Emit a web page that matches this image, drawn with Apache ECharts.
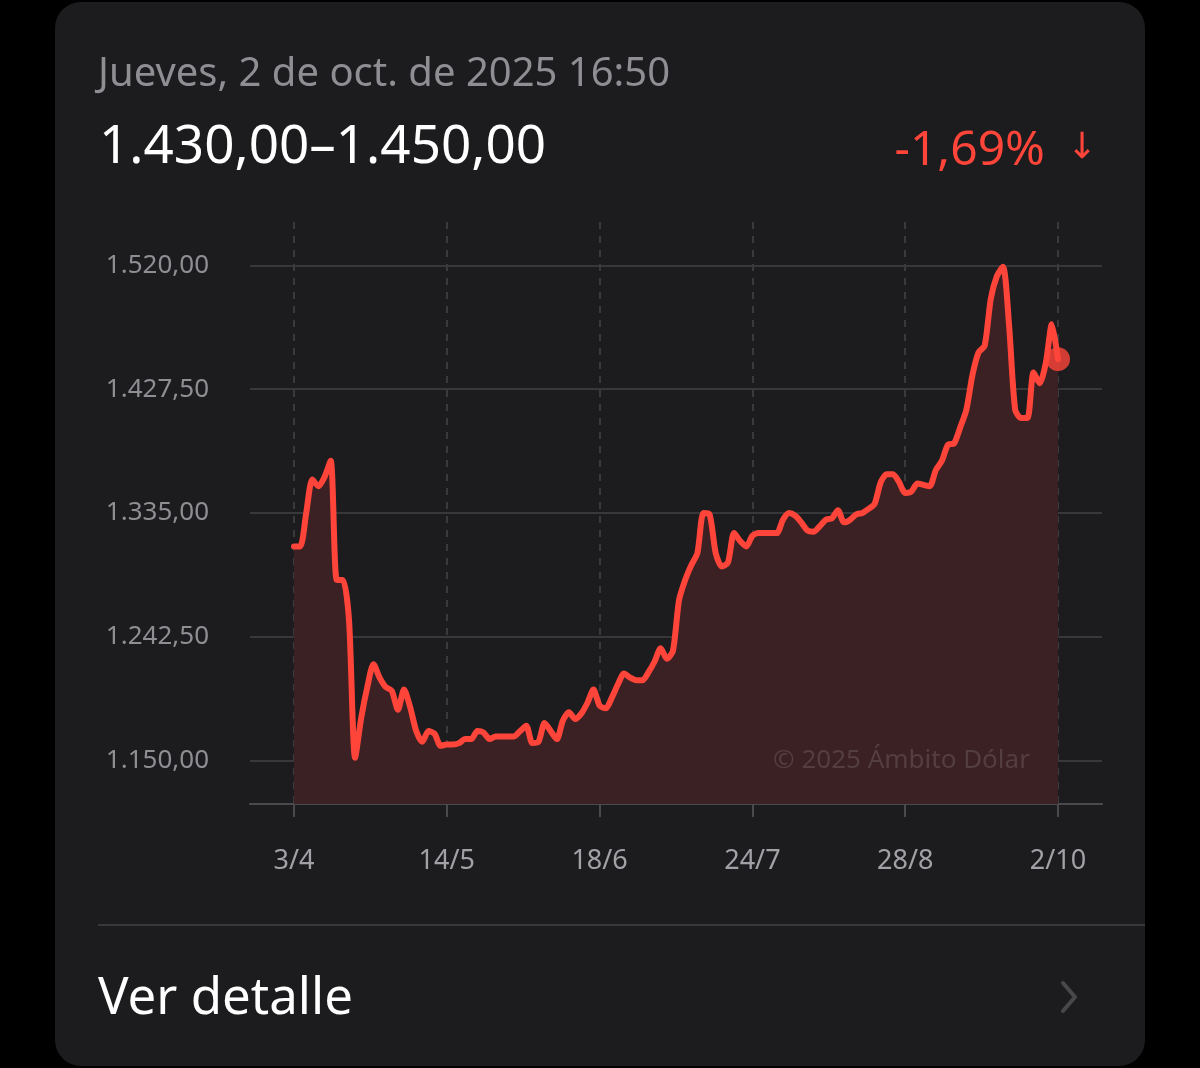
<!DOCTYPE html>
<html>
<head>
<meta charset="utf-8">
<script src="https://cdn.jsdelivr.net/npm/echarts@6/dist/echarts.min.js"></script>
<style>
html,body{margin:0;padding:0;background:#000;width:1200px;height:1068px;overflow:hidden;}
#card{position:absolute;left:55px;top:2px;width:1090px;height:1064px;background:#1c1c1e;border-radius:26px;}
#c{position:absolute;left:0;top:0;width:1200px;height:1068px;}
</style>
</head>
<body>
<div id="card"></div>
<div id="c"></div>
<script>
// ---- data ----
const headerDate = 'Jueves, 2 de oct. de 2025 16:50';
const headerRange = '1.430,00–1.450,00';
const headerChange = '-1,69%';
const headerArrow = '↓';
const watermark = '© 2025 Ámbito Dólar';
const footerText = 'Ver detalle';

const xTickLabels = ['3/4', '14/5', '18/6', '24/7', '28/8', '2/10'];
const xTickIndex = [0, 25, 50, 75, 100, 125];
const yTickValues = [1150, 1242.5, 1335, 1427.5, 1520];

const prices = [
  1310, 1310, 1335, 1360, 1355, 1362, 1374, 1285, 1285, 1255,
  1152, 1182, 1205, 1222, 1212, 1205, 1202, 1188, 1203, 1190,
  1172, 1164, 1172, 1170, 1161, 1162, 1162, 1163, 1166, 1166,
  1172, 1171, 1166, 1168, 1168, 1168, 1168, 1172, 1176, 1163,
  1164, 1178, 1172, 1166, 1180, 1186, 1181, 1185, 1193, 1203,
  1191, 1189, 1197, 1207, 1215, 1212, 1210, 1210, 1216, 1224,
  1234, 1226, 1232, 1270, 1285, 1296, 1305, 1335, 1334, 1305,
  1295, 1298, 1320, 1314, 1310, 1318, 1320, 1320, 1320, 1320,
  1330, 1335, 1333, 1328, 1322, 1321, 1325, 1330, 1331, 1337,
  1328, 1330, 1334, 1335, 1338, 1342, 1358, 1364, 1364, 1358,
  1350, 1351, 1357, 1356, 1355, 1367, 1374, 1386, 1387, 1399,
  1412, 1438, 1455, 1460, 1495, 1512, 1519, 1475, 1412, 1406,
  1406, 1440, 1432, 1447, 1476, 1450
];

// ---- helpers ----
function fmtAR(v) {
  const fixed = v.toFixed(2);
  const parts = fixed.split('.');
  const intPart = parts[0].replace(/\B(?=(\d{3})+(?!\d))/g, '.');
  return intPart + ',' + parts[1];
}

const RED = '#ff453a';
const AREA = '#3b2123';
const FONT = '"Noto Sans"';

const lineData = prices.map((v, i) => [i, v]);
const lastIdx = prices.length - 1;

const chart = echarts.init(document.getElementById('c'), null, {renderer: 'canvas'});
chart.setOption({
  backgroundColor: 'transparent',
  animation: false,
  textStyle: {fontFamily: 'Noto Sans'},
  grid: {left: 250, right: 98, top: 222, bottom: 264, containLabel: false},
  xAxis: {
    type: 'value',
    min: -7.2,
    max: 132.2,
    axisLine: {show: true, lineStyle: {color: '#4a4a4d', width: 2}},
    axisTick: {show: true, customValues: xTickIndex, length: 13, lineStyle: {color: '#4a4a4d', width: 2}},
    splitLine: {show: true, lineStyle: {color: '#3a3a3d', width: 2, type: [7, 7]}},
    axisLabel: {
      customValues: xTickIndex,
      color: '#a1a1a6',
      fontSize: 27,
      fontFamily: 'Noto Sans',
      margin: 44,
      formatter: function (v) {
        const k = xTickIndex.indexOf(Math.round(v));
        return k >= 0 ? xTickLabels[k] : '';
      }
    }
  },
  yAxis: {
    type: 'value',
    min: 1117.5,
    max: 1552.5,
    axisLine: {show: false},
    axisTick: {show: false, customValues: yTickValues},
    splitLine: {show: true, lineStyle: {color: '#38383b', width: 2}},
    axisLabel: {
      customValues: yTickValues,
      color: '#8e8e93',
      fontSize: 26,
      fontFamily: 'Noto Sans',
      margin: 41,
      formatter: function (v) { return fmtAR(v); }
    }
  },
  series: [
    {
      type: 'line',
      data: lineData,
      smooth: 0.25,
      showSymbol: false,
      symbol: 'none',
      lineStyle: {color: RED, width: 6, cap: 'round', join: 'round'},
      areaStyle: {color: AREA, opacity: 1, origin: 'start'},
      z: 2
    },
    {
      type: 'scatter',
      data: [[lastIdx, prices[lastIdx]]],
      symbol: 'circle',
      symbolSize: 24,
      itemStyle: {color: RED},
      z: 4
    }
  ],
  graphic: [
    {
      type: 'text', left: 98, top: 55, z: 10,
      style: {text: headerDate, fill: '#8e8e93', font: '40px ' + FONT}
    },
    {
      type: 'text', left: 99, top: 121, z: 10,
      style: {text: headerRange, fill: '#ffffff', font: '53px ' + FONT}
    },
    {
      type: 'text', right: 155, top: 127, z: 10,
      style: {text: headerChange, fill: RED, font: '48px ' + FONT, textAlign: 'right'}
    },
    {
      type: 'text', right: 103, top: 131, z: 10,
      style: {text: headerArrow, fill: RED, font: '36px "DejaVu Sans"', textAlign: 'right'}
    },
    {
      type: 'text', left: 760, top: 744, z: 5,
      style: {
        text: watermark, fill: '#553e41', font: '26px ' + FONT,
        backgroundColor: AREA, padding: [4, 13, 4, 13]
      }
    },
    {
      type: 'line', z: 10,
      shape: {x1: 98, y1: 925, x2: 1145, y2: 925},
      style: {stroke: '#38383a', lineWidth: 2}
    },
    {
      type: 'text', left: 98, top: 974, z: 10,
      style: {text: footerText, fill: '#ffffff', font: '51px ' + FONT}
    },
    {
      type: 'polyline', z: 10,
      shape: {points: [[1063, 983], [1075, 997], [1063, 1011]]},
      style: {stroke: '#48484a', lineWidth: 4, fill: null, lineCap: 'round', lineJoin: 'round'}
    }
  ]
});
</script>
</body>
</html>
